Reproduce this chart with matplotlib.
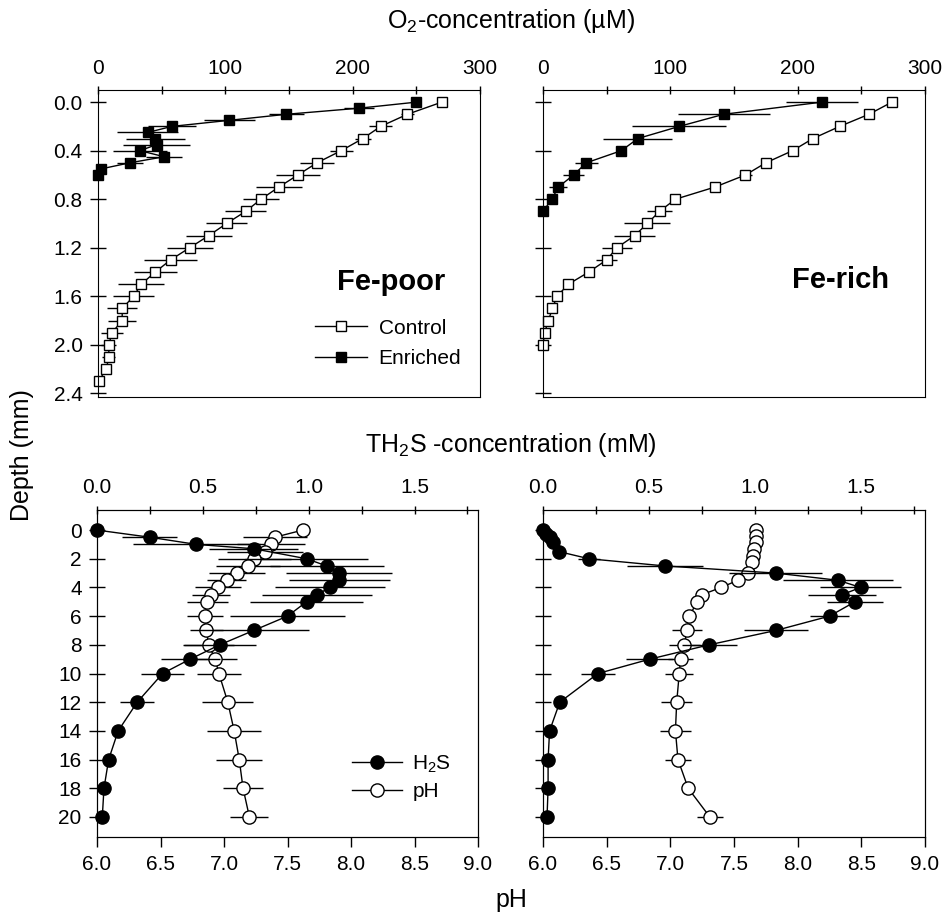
import matplotlib.pyplot as plt
from matplotlib.lines import Line2D
from matplotlib.ticker import MultipleLocator

plt.rcParams['font.family'] = ['Liberation Sans', 'DejaVu Sans']
plt.rcParams['mathtext.default'] = 'regular'

# --- O2 profiles (uM), depth in mm ---
ctrl_poor_depth = [0.0, 0.1, 0.2, 0.3, 0.4, 0.5, 0.6, 0.7, 0.8, 0.9, 1.0, 1.1,
                   1.2, 1.3, 1.4, 1.5, 1.6, 1.7, 1.8, 1.9, 2.0, 2.1, 2.2, 2.3]
ctrl_poor_o2 = [270, 243, 222, 208, 191, 172, 157, 142, 128, 116, 101, 87,
                72, 57, 45, 34, 28, 19, 19, 11, 8.5, 8.5, 6.5, 0.5]
ctrl_poor_err = [3, 5, 9, 6.5, 9, 13, 17, 18, 14, 16, 16, 18,
                 18, 21, 17, 18, 16, 12, 11, 9, 6, 5, 3, 3]

enr_poor_depth = [0.0, 0.05, 0.1, 0.15, 0.2, 0.25, 0.3, 0.35, 0.4, 0.45, 0.5, 0.55, 0.6]
enr_poor_o2 = [250, 205, 148, 103, 58, 39, 45, 46, 33, 52, 25, 2.5, 0]
enr_poor_err = [2, 12, 14, 20, 19, 24, 23, 26, 21, 14, 10, 3, 2]

ctrl_rich_depth = [0.0, 0.1, 0.2, 0.3, 0.4, 0.5, 0.6, 0.7, 0.8, 0.9, 1.0,
                   1.1, 1.2, 1.3, 1.4, 1.5, 1.6, 1.7, 1.8, 1.9, 2.0]
ctrl_rich_o2 = [274, 256, 233, 212, 196, 175, 159, 135, 104, 91.5, 82,
                72, 58, 50, 36, 20, 11, 7.4, 4.2, 1.3, 0]
ctrl_rich_err = [2, 2, 2, 2, 3, 3, 5, 3, 3, 10, 18,
                 16, 12, 8, 3, 3, 2, 2, 2, 2, 1]

enr_rich_depth = [0.0, 0.1, 0.2, 0.3, 0.4, 0.5, 0.6, 0.7, 0.8, 0.9]
enr_rich_o2 = [219, 142, 107, 74.5, 61.5, 34, 24, 12, 7, 0]
enr_rich_err = [28, 36, 37, 27, 3, 9, 8, 7, 2, 0]

# --- H2S (mM) and pH profiles, depth in mm ---
h2s_poor_depth = [0, 0.5, 1, 1.3, 2, 2.5, 3, 3.5, 4, 4.5, 5, 6, 7, 8, 9, 10, 12, 14, 16, 18, 20]
h2s_poor = [0, 0.25, 0.47, 0.74, 0.99, 1.085, 1.145, 1.145, 1.10, 1.04, 0.99,
            0.90, 0.74, 0.58, 0.44, 0.31, 0.19, 0.10, 0.055, 0.033, 0.025]
h2s_poor_err = [0, 0.13, 0.3, 0.21, 0.29, 0.27, 0.25, 0.24, 0.26, 0.26, 0.265,
                0.27, 0.26, 0.17, 0.14, 0.1, 0.08, 0.02, 0.01, 0.01, 0.01]

ph_poor_depth = [0, 0.5, 1, 1.5, 2, 2.5, 3, 3.5, 4, 4.5, 5, 6, 7, 8, 9, 10, 12, 14, 16, 18, 20]
ph_poor = [7.62, 7.40, 7.37, 7.32, 7.24, 7.19, 7.10, 7.02, 6.95, 6.90, 6.87,
           6.85, 6.86, 6.88, 6.93, 6.96, 7.03, 7.08, 7.12, 7.15, 7.20]
ph_poor_err = [0.05, 0.25, 0.27, 0.3, 0.29, 0.25, 0.22, 0.15, 0.18, 0.15, 0.16,
               0.14, 0.13, 0.2, 0.17, 0.17, 0.2, 0.21, 0.18, 0.16, 0.15]

h2s_rich_depth = [0, 0.25, 0.5, 0.85, 1.5, 2, 2.5, 3, 3.5, 4, 4.5, 5, 6, 7, 8, 9,
                  10, 12, 14, 16, 18, 20]
h2s_rich = [0, 0.016, 0.035, 0.047, 0.075, 0.217, 0.574, 1.097, 1.39, 1.497, 1.41,
            1.47, 1.35, 1.097, 0.783, 0.503, 0.259, 0.079, 0.031, 0.024, 0.024, 0.019]
h2s_rich_err = [0, 0, 0, 0, 0.01, 0.05, 0.18, 0.22, 0.26, 0.19, 0.16,
                0.13, 0.09, 0.15, 0.13, 0.11, 0.08, 0.02, 0.01, 0.01, 0.01, 0.01]

ph_rich_depth = [0, 0.4, 0.85, 1.3, 1.8, 2.25, 3, 3.5, 4, 4.5, 5, 6, 7, 8, 9, 10,
                 12, 14, 16, 18, 20]
ph_rich = [7.67, 7.67, 7.67, 7.66, 7.65, 7.64, 7.61, 7.53, 7.40, 7.25, 7.21,
           7.15, 7.13, 7.11, 7.08, 7.07, 7.05, 7.04, 7.06, 7.14, 7.31]
ph_rich_err = [0.01, 0.01, 0.01, 0.01, 0.01, 0.01, 0.02, 0.02, 0.03, 0.05, 0.05,
               0.05, 0.12, 0.12, 0.1, 0.11, 0.12, 0.12, 0.1, 0.03, 0.1]

W, H = 944, 915
fig = plt.figure(figsize=(W / 100, H / 100), dpi=100)


def box(x0, y0, x1, y1):
    return [x0 / W, 1 - y1 / H, (x1 - x0) / W, (y1 - y0) / H]


def profile(ax, x, y, xerr, marker, face, ms):
    ax.errorbar(x, y, xerr=xerr, fmt='-', color='black', lw=1, elinewidth=1,
                capsize=0, marker=marker, mfc=face, mec='black', ms=ms, mew=1,
                clip_on=False)


TICK = 15
ax_tl = fig.add_axes(box(98, 90, 480, 397))
ax_tr = fig.add_axes(box(543, 90, 925, 397))
ax_bl = fig.add_axes(box(97, 510, 478, 837))
ax_br = fig.add_axes(box(543, 510, 925, 837))

# top row: O2
for ax in (ax_tl, ax_tr):
    ax.set_xlim(0, 300)
    ax.set_ylim(2.43, -0.1)
    ax.xaxis.tick_top()
    ax.xaxis.set_major_locator(MultipleLocator(100))
    ax.xaxis.set_minor_locator(MultipleLocator(50))
    ax.yaxis.set_major_locator(MultipleLocator(0.4))
    ax.tick_params(axis='x', which='both', direction='inout', length=6, width=1,
                   top=True, bottom=False, labeltop=True, labelbottom=False,
                   labelsize=TICK, pad=6)
    ax.tick_params(axis='y', direction='inout', length=12, width=1,
                   left=True, right=False, labelsize=TICK, pad=5)
    ax.yaxis.set_major_formatter(lambda v, p: f'{v:.1f}')

profile(ax_tl, ctrl_poor_o2, ctrl_poor_depth, ctrl_poor_err, 's', 'white', 7.5)
profile(ax_tl, enr_poor_o2, enr_poor_depth, enr_poor_err, 's', 'black', 7.5)
profile(ax_tr, ctrl_rich_o2, ctrl_rich_depth, ctrl_rich_err, 's', 'white', 7.5)
profile(ax_tr, enr_rich_o2, enr_rich_depth, enr_rich_err, 's', 'black', 7.5)
ax_tr.tick_params(axis='y', labelleft=False)

ax_tl.text(0.767, 0.375, 'Fe-poor', transform=ax_tl.transAxes, fontsize=21,
           fontweight='bold', ha='center', va='center')
ax_tr.text(0.78, 0.381, 'Fe-rich', transform=ax_tr.transAxes, fontsize=21,
           fontweight='bold', ha='center', va='center')

o2_handles = [Line2D([], [], color='black', lw=1, marker='s', mfc='white', mec='black', ms=7.5),
              Line2D([], [], color='black', lw=1, marker='s', mfc='black', mec='black', ms=7.5)]
ax_tl.legend(o2_handles, ['Control', 'Enriched'], loc='upper left',
             bbox_to_anchor=(0.568, 0.255), frameon=False, fontsize=TICK,
             borderpad=0, borderaxespad=0, handlelength=2.5, handletextpad=0.55,
             labelspacing=0.55)

# bottom row: pH (bottom axis) and H2S (top axis)
for ax, h2s, h2s_d, h2s_e, ph, ph_d, ph_e in (
        (ax_bl, h2s_poor, h2s_poor_depth, h2s_poor_err, ph_poor, ph_poor_depth, ph_poor_err),
        (ax_br, h2s_rich, h2s_rich_depth, h2s_rich_err, ph_rich, ph_rich_depth, ph_rich_err)):
    ax.set_xlim(6, 9)
    ax.set_ylim(21.4, -1.4)
    ax.xaxis.set_major_locator(MultipleLocator(0.5))
    ax.yaxis.set_major_locator(MultipleLocator(2))
    ax.xaxis.set_major_formatter(lambda v, p: f'{v:.1f}')
    ax.tick_params(axis='x', direction='out', length=7, width=1, top=False,
                   labelsize=TICK, pad=6)
    ax.tick_params(axis='y', direction='inout', length=12, width=1,
                   left=True, right=False, labelsize=TICK, pad=5)
    profile(ax, ph, ph_d, ph_e, 'o', 'white', 9.5)
    tw = ax.twiny()
    tw.set_xlim(0, 1.8)
    tw.xaxis.set_major_locator(MultipleLocator(0.5))
    tw.xaxis.set_minor_locator(MultipleLocator(0.25))
    tw.xaxis.set_major_formatter(lambda v, p: f'{v:.1f}')
    tw.tick_params(axis='x', which='both', direction='inout', length=6, width=1,
                   labelsize=TICK, pad=6)
    profile(tw, h2s, h2s_d, h2s_e, 'o', 'black', 9.5)
    if ax is ax_bl:
        handles = [Line2D([], [], color='black', lw=1, marker='o', mfc='black', mec='black', ms=9.5),
                   Line2D([], [], color='black', lw=1, marker='o', mfc='white', mec='black', ms=9.5)]
        tw.legend(handles, ['H$_2$S', 'pH'], loc='upper left',
                  bbox_to_anchor=(0.669, 0.255), frameon=False, fontsize=TICK,
                  borderpad=0, borderaxespad=0, handlelength=2.4,
                  handletextpad=0.5, labelspacing=0.35)

ax_br.tick_params(axis='y', labelleft=False)

fig.text(511 / W, 1 - 21 / H, 'O$_2$-concentration (µM)', ha='center', va='center', fontsize=18)
fig.text(511 / W, 1 - 445 / H, 'TH$_2$S -concentration (mM)', ha='center', va='center', fontsize=18)
fig.text(511 / W, 1 - 900 / H, 'pH', ha='center', va='center', fontsize=18)
fig.text(22 / W, 1 - 455 / H, 'Depth (mm)', ha='center', va='center', fontsize=18, rotation=90)

fig.savefig('out.png', dpi=100)
